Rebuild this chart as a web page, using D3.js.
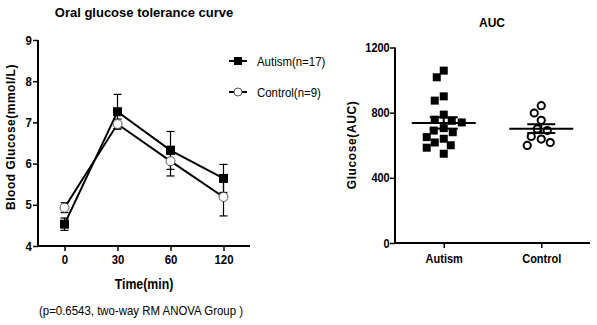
<!DOCTYPE html>
<html><head><meta charset="utf-8">
<script src="https://cdn.jsdelivr.net/npm/d3@7"></script>
<style>
body{margin:0;background:#fff;}
svg text{fill:#000;}
.b{font-family:"Liberation Sans",Arial,sans-serif;font-weight:bold;}
.n{font-family:"Liberation Sans",Arial,sans-serif;}
.h{font-family:"Liberation Sans",Arial,sans-serif;font-weight:bold;}
</style>
</head><body>
<svg id="c" width="597" height="325"></svg>
<script>
// ---- data ----
const timeLabels = ["0","30","60","120"];
const autismMean = [4.53, 7.26, 6.32, 5.64];
const autismErr  = [0.15, 0.42, 0.46, 0.34];
const controlMean = [4.93, 6.96, 6.06, 5.19];
const controlErr  = [0.12, 0.12, 0.36, 0.46];
const glucoseTicks = [4,5,6,7,8,9];
const groups = ["Autism","Control"];
const autismAUC = [1058,1017,900,874,788,757,750,740,705,690,680,650,640,617,600,585,548];
const controlAUC = [843,798,753,700,690,654,638,617,599];
const aucMean = [737, 702];
const aucSem = [35, 27];
const aucTicks = [0,400,800,1200];
const legendLabels = ["Autism(n=17)","Control(n=9)"];

const svg = d3.select("#c");
const NARROW = 0.88;

// ---------- left chart ----------
const x1 = d3.scalePoint().domain(timeLabels).range([38,250]).padding(0.5);
const y1 = d3.scaleLinear().domain([4,9]).range([246,40]);

const gx1 = svg.append("g").attr("transform","translate(0,246)")
  .call(d3.axisBottom(x1).tickSize(5).tickPadding(4));
const gy1 = svg.append("g").attr("transform","translate(38,0)")
  .call(d3.axisLeft(y1).tickValues(glucoseTicks).tickSize(5).tickPadding(2).tickFormat(d3.format("d")));
[gx1,gy1].forEach(g=>{
  g.select(".domain").attr("stroke","#000").attr("stroke-width",2);
  g.selectAll(".tick line").attr("stroke","#000").attr("stroke-width",1.5);
  g.selectAll(".tick text").attr("class","b").attr("font-size",13).attr("transform",`scale(${NARROW},1)`);
});
gy1.select(".domain").attr("d","M0,40V246");
gx1.select(".domain").attr("d","M38,0H250");

const line1 = d3.line().x((d,i)=>x1(timeLabels[i])).y(d=>y1(d));

function errbars(means, errs){
  const g = svg.append("g").attr("stroke","#000").attr("stroke-width",1.2);
  means.forEach((m,i)=>{
    const cx = x1(timeLabels[i]);
    g.append("line").attr("x1",cx).attr("x2",cx).attr("y1",y1(m-errs[i])).attr("y2",y1(m+errs[i]));
    [m-errs[i], m+errs[i]].forEach(v=>g.append("line").attr("x1",cx-4).attr("x2",cx+4).attr("y1",y1(v)).attr("y2",y1(v)));
  });
}
errbars(controlMean, controlErr);
errbars(autismMean, autismErr);

svg.append("path").datum(controlMean).attr("d",line1).attr("fill","none").attr("stroke","#000").attr("stroke-width",2);
svg.append("path").datum(autismMean).attr("d",line1).attr("fill","none").attr("stroke","#000").attr("stroke-width",2);

svg.append("g").selectAll("circle").data(controlMean).join("circle")
  .attr("cx",(d,i)=>x1(timeLabels[i])).attr("cy",d=>y1(d)).attr("r",4.5)
  .attr("fill","#fff").attr("stroke","#555").attr("stroke-width",1);
svg.append("g").selectAll("rect").data(autismMean).join("rect")
  .attr("x",(d,i)=>x1(timeLabels[i])-4.5).attr("y",d=>y1(d)-4.5).attr("width",9).attr("height",9).attr("fill","#000");

// legend
const lg = svg.append("g");
[0,1].forEach(i=>{
  const ly = 61 + i*31;
  lg.append("line").attr("x1",229).attr("x2",247).attr("y1",ly).attr("y2",ly).attr("stroke","#000").attr("stroke-width",2);
  if(i===0) lg.append("rect").attr("x",234).attr("y",ly-4).attr("width",8).attr("height",8).attr("fill","#000");
  else lg.append("circle").attr("cx",238).attr("cy",ly).attr("r",4).attr("fill","#fff").attr("stroke","#555");
  lg.append("text").attr("class","n").attr("transform",`translate(257,${ly+4.5}) scale(${NARROW},1)`).attr("font-size",13).text(legendLabels[i]);
});

svg.append("text").attr("class","h").attr("x",144).attr("y",17).attr("text-anchor","middle").attr("font-size",13).text("Oral glucose tolerance curve");
svg.append("text").attr("class","b").attr("transform",`translate(144,289) scale(${NARROW},1)`).attr("text-anchor","middle").attr("font-size",14).text("Time(min)");
svg.append("text").attr("class","n").attr("transform",`translate(141,315) scale(${NARROW},1)`).attr("text-anchor","middle").attr("font-size",13).text("(p=0.6543, two-way RM ANOVA Group )");
svg.append("text").attr("class","h").attr("transform","translate(15,137) rotate(-90)").attr("text-anchor","middle").attr("font-size",12).attr("letter-spacing",0.5).text("Blood Glucose(mmol/L)");

// ---------- right chart ----------
const x2 = d3.scalePoint().domain(groups).range([395,590]).padding(0.5);
const y2 = d3.scaleLinear().domain([0,1200]).range([243,47.5]);
const gx2 = svg.append("g").attr("transform","translate(0,243)")
  .call(d3.axisBottom(x2).tickSize(5).tickPadding(6));
const gy2 = svg.append("g").attr("transform","translate(395,0)")
  .call(d3.axisLeft(y2).tickValues(aucTicks).tickSize(5).tickPadding(1).tickFormat(d3.format("d")));
[gx2,gy2].forEach(g=>{
  g.select(".domain").attr("stroke","#000").attr("stroke-width",2);
  g.selectAll(".tick line").attr("stroke","#000").attr("stroke-width",1.5);
  g.selectAll(".tick text").attr("class","b").attr("font-size",12.5).attr("transform",`scale(${NARROW},1)`);
});
gy2.select(".domain").attr("d","M0,47.5V243");
gx2.select(".domain").attr("d","M395,0H590");

// simple beeswarm
function swarm(values, cx, size){
  const placed = [];
  const sorted = values.map((v,i)=>({v,i})).sort((a,b)=>b.v-a.v);
  sorted.forEach(p=>{
    const py = y2(p.v);
    let best = cx;
    for(let k=0;k<200;k++){
      const off = (k%2===0?1:-1)*Math.ceil(k/2);
      const px = cx + off;
      const ok = placed.every(q=>Math.hypot(q.x-px,q.y-py) >= size);
      if(ok){best=px;break;}
    }
    placed.push({x:best,y:py,v:p.v});
  });
  return placed;
}
const sa = swarm(autismAUC, x2("Autism"), 9.5);
const sc = swarm(controlAUC, x2("Control"), 9.5);

svg.append("g").selectAll("rect").data(sa).join("rect")
  .attr("x",d=>d.x-4).attr("y",d=>d.y-4).attr("width",8).attr("height",8).attr("fill","#000");
svg.append("g").selectAll("circle").data(sc).join("circle")
  .attr("cx",d=>d.x).attr("cy",d=>d.y).attr("r",3.6).attr("fill","#fff").attr("stroke","#000").attr("stroke-width",2);

groups.forEach((g,i)=>{
  const cx = x2(g);
  const gg = svg.append("g").attr("stroke","#000");
  gg.append("line").attr("x1",cx-32).attr("x2",cx+32).attr("y1",y2(aucMean[i])).attr("y2",y2(aucMean[i])).attr("stroke-width",2);
  gg.append("line").attr("x1",cx).attr("x2",cx).attr("y1",y2(aucMean[i]-aucSem[i])).attr("y2",y2(aucMean[i]+aucSem[i])).attr("stroke-width",2);
  [aucMean[i]-aucSem[i], aucMean[i]+aucSem[i]].forEach(v=>
    gg.append("line").attr("x1",cx-14).attr("x2",cx+14).attr("y1",y2(v)).attr("y2",y2(v)).attr("stroke-width",2));
});

svg.append("text").attr("class","h").attr("x",492).attr("y",27).attr("text-anchor","middle").attr("font-size",12).text("AUC");
svg.append("text").attr("class","h").attr("transform","translate(356,145) rotate(-90)").attr("text-anchor","middle").attr("font-size",12).attr("letter-spacing",0.6).text("Glucose(AUC)");
</script>
</body></html>
